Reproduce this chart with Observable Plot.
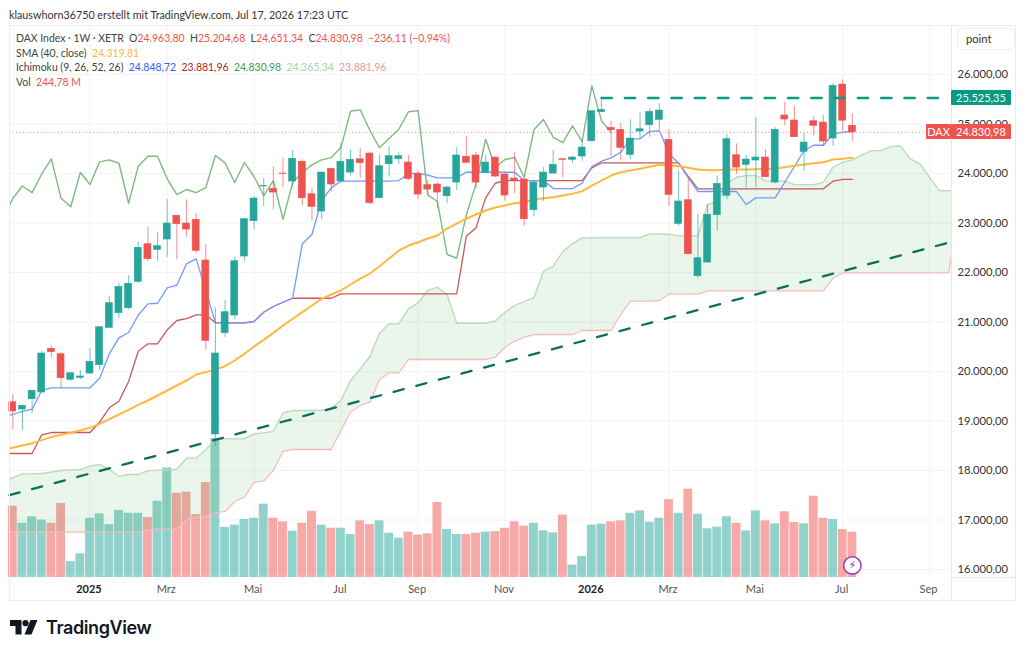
<!DOCTYPE html>
<html>
<head>
<meta charset="utf-8">
<script src="https://cdn.jsdelivr.net/npm/d3@7"></script>
<script src="https://cdn.jsdelivr.net/npm/@observablehq/plot@0.6"></script>
<style>
  html,body{margin:0;padding:0;background:#fff;width:1024px;height:655px;overflow:hidden;}
  #page{position:relative;width:1024px;height:655px;font-family:Lato,"Noto Sans",sans-serif;color:#2a2e39;}
  #page svg.plot{position:absolute;left:0;top:0;}
  .abs{position:absolute;white-space:pre;}
  #credit{left:9px;top:8px;font-size:10.75px;color:#333;}
  .lg{left:16px;font-size:10.45px;color:#444;}
  #shell{left:9px;top:25px;width:1007px;height:576px;border:1px solid #ececec;box-sizing:border-box;}
  #shellv{left:951px;top:25px;width:1px;height:576px;background:#e6e6e6;}
  #shellh{left:951px;top:577px;width:65px;height:1px;background:#e6e6e6;}
  #point{left:957px;top:28px;width:58px;height:22px;border:1px solid #eee;border-radius:5px;box-sizing:border-box;font-size:11.2px;line-height:20px;padding-left:8px;color:#333;background:#fff;}
  .tag{color:#fff;font-size:11px;height:15px;line-height:15px;text-align:center;border-radius:1px;}
  #brand{left:46px;top:617px;font-size:18px;font-weight:600;color:#131722;font-family:Inter,Lato,sans-serif;letter-spacing:-0.4px;}
  #logo{left:10px;top:620px;}
</style>
</head>
<body>
<div id="page">
  <div class="abs" id="credit">klauswhorn36750 erstellt mit TradingView.com, Jul 17, 2026 17:23 UTC</div>
  <div class="abs" id="shell"></div>
  <div id="chart"></div>
  <div class="abs" id="shellv"></div>
  <div class="abs" id="shellh"></div>
  <div class="abs lg" style="top:32px">DAX Index · 1W · XETR  O<span style="color:#ef5350">24.963,80</span>  H<span style="color:#ef5350">25.204,68</span>  L<span style="color:#ef5350">24.651,34</span>  C<span style="color:#ef5350">24.830,98</span>  <span style="color:#ef5350">−236,11 (−0,94%)</span></div>
  <div class="abs lg" style="top:47px">SMA (40, close)  <span style="color:#ffb83d">24.319,81</span></div>
  <div class="abs lg" style="top:61px">Ichimoku (9, 26, 52, 26)  <span style="color:#2962ff">24.848,72</span>  <span style="color:#b71c1c">23.881,96</span>  <span style="color:#43a047">24.830,98</span>  <span style="color:#a5d6a7">24.365,34</span>  <span style="color:#ef9a9a">23.881,96</span></div>
  <div class="abs lg" style="top:76px">Vol  <span style="color:#ef5350">244,78 M</span></div>
  <div class="abs" id="point">point</div>
  <svg class="abs" id="logo" width="28" height="16" viewBox="0 0 28 16"><path d="M0 0H11.5V14.5H5.5V6H0Z" fill="#131722"/><circle cx="15.5" cy="3.2" r="3.1" fill="#131722"/><path d="M20.5 0H27.5L21.5 14.5H14.5Z" fill="#131722"/></svg>
  <div class="abs" id="brand">TradingView</div>
</div>
<script>
const open = [19379,19232,19440,19575,20458,20349,19832,19872,19959,20127,20882,21177,21278,21812,22571,22458,22666,23145,22989,23064,22242,18727,20773,21131,22323,23036,23737,23690,23999,23838,24236,23581,23232,24094,23838,24019,24288,24403,23500,24187,24288,24221,23993,23763,23777,23541,23817,24337,24363,24019,24322,23979,23898,23878,23258,23716,23999,24288,24276,24343,24652,25237,24922,24882,24377,24848,24975,25084,24680,22983,23460,21925,22201,23157,23549,24369,24175,24262,24322,23817,25171,25070,24438,25056,25029,24706,25797,24963.8];
const high = [19535,19313,19616,20410,20519,20377,19965,20020,20464,20909,21515,21783,21933,22611,22914,22813,23468,23151,23468,23185,22565,21286,21434,22308,23090,23535,23892,24141,24316,24464,24276,23696,24019,24100,24599,24478,24504,24429,24383,24530,24429,24363,24046,23858,23823,23743,24518,24753,24429,24363,24333,24025,24417,23892,23858,24126,24464,24296,24349,24680,25272,25525.35,25056,25015,25084,25231,25312,25407,24882,24046,23872,23171,23373,23959,24787,24599,24369,25136,24484,24922,25433,25359,24813,25157,25171,25811,25892,25204.68];
const low = [18822,18808,19151,19575,20276,19650,19804,19832,19939,20020,20882,21076,21246,21783,22222,22228,22308,22256,22712,22377,20438,18485,20692,21044,22228,22862,23327,23266,23710,23710,23359,23036,23076,23621,23828,23959,23912,23367,23494,23924,24175,23858,23468,23555,23286,23387,23656,24211,23690,24013,23912,23440,23589,22935,23125,23434,23993,23912,24201,24248,24638,25231,24343,24262,24276,24706,24732,24882,23339,22929,22363,21872,22195,22834,23468,23979,23710,23710,23912,23791,24963,24727,24046,24761,24545,24545,24848,24651.34];
const close = [19192,19307,19610,20363,20390,19864,19965,19899,20196,20894,21379,21711,21771,22498,22268,22531,22989,22975,22868,22438,20620,20363,21197,22228,23076,23494,23747,23615,23990,24296,23500,23327,24019,23777,24236,24276,24207,23399,24147,24349,24349,23892,23575,23676,23615,23716,24363,24215,23817,24221,23939,23555,23858,23076,23817,24019,24175,24276,24322,24524,25258,25286,24874,24518,24706,24894,25246,25272,23569,23434,22369,22288,23165,23791,24692,24120,24282,24322,23924,24882,25090,24732,24625,24963,24646,25771,25067,24830.98];
// Volume in millions of shares, one per candle.
const volume = [385,293,328,310,293,400,86,128,320,344,286,362,347,347,324,412,592,455,461,340,513,751,270,283,313,320,396,320,301,250,293,358,283,266,266,232,306,286,306,239,212,245,229,236,405,259,232,232,239,245,248,266,301,277,293,252,241,337,67,113,283,288,301,306,347,360,299,320,421,347,477,342,263,272,328,293,252,360,306,290,355,297,290,439,320,313,259,244.78];
// The indicator series below begin one week before the first candle.
const sma40 = [18414,18458,18505,18552,18613,18674,18721,18761,18808,18862,18943,19037,19131,19226,19327,19414,19515,19616,19717,19818,19939,19987,20034,20108,20222,20357,20505,20640,20781,20929,21064,21198,21333,21468,21555,21636,21757,21878,21979,22127,22282,22444,22545,22611,22686,22747,22888,22989,23090,23171,23252,23312,23353,23399,23419,23474,23500,23520,23555,23589,23642,23757,23858,23959,24025,24060,24094,24135,24175,24167,24147,24114,24080,24066,24066,24080,24080,24080,24086,24094,24100,24126,24155,24181,24207,24227,24282,24296,24319.81];
const tenkan = [19101,19131,19192,19238,19616,19670,19670,19670,19670,19670,19864,20357,20680,20787,21137,21367,21379,21690,21743,22175,22276,21636,20983,20983,20983,20983,21010,21197,21313,21399,21480,22579,22767,23454,23710,23844,23844,23844,23844,23844,23844,23858,23993,24005,23965,23912,23912,23912,24025,24025,24025,24025,24025,24025,23858,23858,23858,23696,23696,23696,23803,24141,24248,24316,24429,24700,24700,24848,24868,24397,24207,23912,23636,23636,23636,23636,23636,23373,23508,23508,23508,23823,24141,24464,24571,24571,24801,24833,24848.72];
const kijun = [18343,18343,18343,18343,18721,18767,18767,18767,18767,18767,18975,19266,19400,19798,20410,20559,20559,20842,21030,21070,21145,21145,20983,20983,20983,20983,21010,21197,21313,21399,21480,21480,21480,21480,21480,21569,21569,21569,21569,21569,21569,21569,21569,21569,21569,21569,21569,21569,22733,22902,23508,23803,23858,23858,23858,23858,23858,23858,23858,23858,23858,24114,24215,24215,24215,24215,24215,24215,24215,24215,24215,23939,23690,23690,23690,23690,23690,23690,23690,23690,23690,23690,23690,23690,23690,23690,23844,23882,23881.96];
// Both cloud edges run on 11 weeks past the last candle.
const spanA = [17778,17852,17933,17933,17939,17965,18000,18014,18020,18087,18121,18020,17879,17919,17919,17994,18006,18006,18026,18248,18248,18418,18640,18640,18640,18640,18741,18761,18788,19157,19212,19212,19212,19212,19258,19414,19818,20054,20303,20773,20963,20963,21266,21387,21636,21702,21555,20975,20975,20975,20975,21016,21197,21333,21414,21488,22026,22127,22424,22579,22700,22700,22700,22700,22700,22700,22700,22781,22781,22773,22741,22727,22747,23373,23440,23791,23924,23959,23959,23858,23844,23844,23777,23777,23777,23823,24126,24227,24276,24377,24464,24464,24545,24551,24296,24195,23924,23656,23656,23656];
const spanB = [16753,16753,16753,16753,16753,16753,16753,16753,16753,16753,16753,16753,16753,16753,16753,16802,16814,16814,16828,16990,17056,17071,17145,17172,17374,17460,17763,17784,18000,18384,18424,18424,18424,18424,18424,18808,19177,19313,19379,19832,19973,19973,20242,20242,20242,20242,20242,20242,20242,20242,20242,20288,20490,20612,20692,20747,20747,20747,20747,20747,20828,20828,20828,20828,21151,21420,21420,21420,21434,21561,21561,21561,21561,21630,21630,21630,21630,21630,21630,21630,21630,21630,21630,21630,21630,21630,21884,21993,21993,21993,21993,21993,21993,21993,21993,21993,21993,21993,21993,23272];
const priceTicks = [16000,17000,18000,19000,20000,21000,22000,23000,24000,25000,26000];
const monthWeeks = [16,25,34,42,51,68,77,86,95];
const monthNames = ["Mrz","Mai","Jul","Sep","Nov","Mrz","Mai","Jul","Sep"];
const yearWeeks = [8,60];
const yearNames = ["2025","2026"];
const resistance = [{i:61,v:25525.35},{i:96.3,v:25525.35}];
const support = [{i:-0.34,v:17501},{i:96.9,v:22600}];
const lastClose = 24830.98;
const eventMark = [{i:87,v:16081}];

const UP = "#26a69a", DOWN = "#ef5350";
const fmt = d3.formatLocale({decimal:",",thousands:".",grouping:[3],currency:["",""]}).format(",.2f");
const bars = close.map((c,i)=>({i,open:open[i],high:high[i],low:low[i],close:c,vol:volume[i],up:c>=open[i]}));
const rows = a => a.map((v,k)=>({i:k-1,v}));
const chikou = rows(close.slice(24));
const cloud = spanA.map((a,k)=>({i:k-1,a,b:spanB[k]}));
const yMin = 15838, yMax = 26990, volPerUnit = 3.74;
const lbl = (arr,names) => v => names[arr.indexOf(v)];

const plot = Plot.plot({
  width:1024, height:655,
  marginLeft:9, marginRight:73, marginTop:25, marginBottom:78,
  style:{background:"transparent",fontFamily:"Lato,'Noto Sans',sans-serif",fontSize:"11.2px",overflow:"visible"},
  x:{type:"linear",domain:[-0.342,97.275],axis:null},
  y:{domain:[yMin,yMax],axis:null},
  marks:[
    Plot.ruleY(priceTicks,{stroke:"#f3f3f3"}),
    Plot.ruleX(monthWeeks,{stroke:"#f3f3f3"}),
    Plot.ruleX(yearWeeks,{stroke:"#f3f3f3"}),
    Plot.rect(bars,{x1:d=>d.i-0.46,x2:d=>d.i+0.46,y1:yMin,y2:d=>yMin+d.vol*volPerUnit,fill:d=>d.up?UP:DOWN,fillOpacity:0.5}),
    Plot.areaY(cloud,{x:"i",y1:"b",y2:"a",fill:"#43a047",fillOpacity:0.11,clip:true}),
    Plot.line(cloud,{x:"i",y:"a",stroke:"#b7dcb9",strokeWidth:1.3,clip:true}),
    Plot.line(cloud,{x:"i",y:"b",stroke:"#f4bcb9",strokeWidth:1.3,clip:true}),
    Plot.line(rows(kijun),{x:"i",y:"v",stroke:"#c75a58",strokeWidth:1.3,clip:true}),
    Plot.line(rows(tenkan),{x:"i",y:"v",stroke:"#739afc",strokeWidth:1.3,clip:true}),
    Plot.line(chikou,{x:"i",y:"v",stroke:"#7dbb80",strokeWidth:1.4,clip:true}),
    Plot.line(rows(sma40),{x:"i",y:"v",stroke:"#ffb83d",strokeWidth:2,clip:true}),
    Plot.ruleY([lastClose],{stroke:"#f58a88",strokeDasharray:"1 2.5"}),
    Plot.ruleX(bars,{x:"i",y1:"low",y2:"high",stroke:d=>d.up?UP:DOWN,strokeWidth:1.1,strokeOpacity:0.6}),
    Plot.rect(bars,{x1:d=>d.i-0.36,x2:d=>d.i+0.36,y1:"open",y2:"close",fill:d=>d.up?UP:DOWN,stroke:d=>d.up?UP:DOWN,strokeWidth:0.6}),
    Plot.line(support,{x:"i",y:"v",stroke:"#0f6d5c",strokeWidth:2.3,strokeDasharray:"10.4 13"}),
    Plot.line(resistance,{x:"i",y:"v",stroke:"#0b9a82",strokeWidth:2.3,strokeDasharray:"10.5 12.8"}),
    Plot.dot(eventMark,{x:"i",y:"v",r:8.7,fill:"#fff",stroke:"#a040c0",strokeWidth:1.6}),
    Plot.text(eventMark,{x:"i",y:"v",text:()=>"⚡",fill:"#9c27b0",fontSize:11,fontFamily:"DejaVu Sans"}),
    Plot.axisY({anchor:"right",ticks:priceTicks,tickFormat:fmt,tickSize:0,tickPadding:6,label:null,fontSize:11.2,fill:"#333"}),
    Plot.axisX({ticks:monthWeeks,tickFormat:lbl(monthWeeks,monthNames),tickSize:0,tickPadding:8,dx:-1,label:null,fontSize:11,fill:"#555"}),
    Plot.axisX({ticks:yearWeeks,tickFormat:lbl(yearWeeks,yearNames),tickSize:0,tickPadding:8,dx:-1,label:null,fontSize:11,fontWeight:"bold",fill:"#222"})
  ]
});
document.getElementById("chart").appendChild(plot);

// Price tags follow the same y scale as the chart.
const sy = plot.scale("y");
const page = document.getElementById("page");
function tag(text,left,width,value,color){
  const t = document.createElement("div");
  t.className = "abs tag"; t.textContent = text;
  t.style.cssText = `left:${left}px;width:${width}px;top:${sy.apply(value)-7.5}px;background:${color}`;
  page.appendChild(t);
}
tag("25.525,35",951,60,resistance[0].v,"#089981");
tag("DAX",926,25,lastClose,"#ef5350");
tag(fmt(lastClose),951,60,lastClose,"#ef5350");
</script>
</body>
</html>
